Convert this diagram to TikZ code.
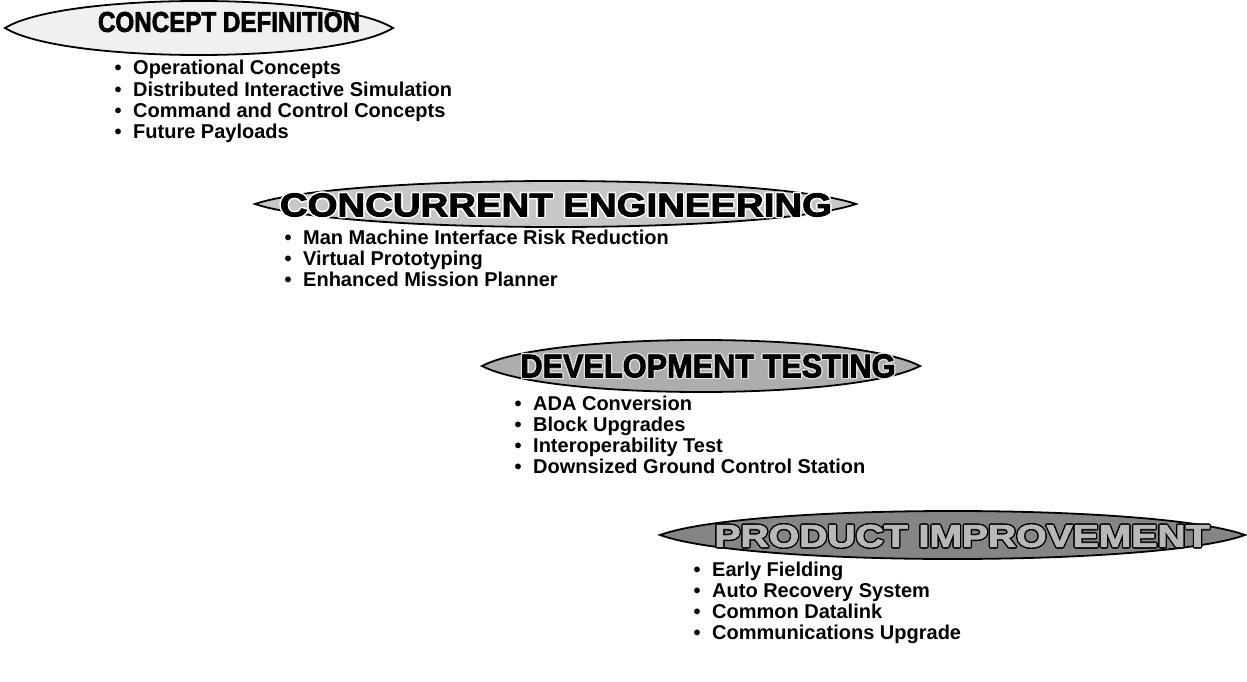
\documentclass[tikz,border=0pt]{standalone}
\usepackage{fontspec}
\setmainfont{Liberation Sans}
\newfontfamily\heavyfont[FakeBold=2.5]{Liberation Sans Bold}
\usepackage{graphicx}
\begin{document}
\begin{tikzpicture}[x=1pt,y=-1pt,
  lens/.style={draw=black, line width=1.8pt},
  bul/.style={anchor=base west, inner sep=0pt, font=\fontsize{20}{21}\selectfont\bfseries},
  dot/.style={anchor=base, inner sep=0pt, font=\fontsize{20}{21}\selectfont\bfseries},
  ttl/.style={inner sep=0pt, font=\heavyfont}]
\useasboundingbox (0,0) rectangle (1247,682);
\newcommand\lensat[5]{%
 \pgfmathsetmacro\lensw{#2-#1}%
 \filldraw[lens, fill=#5] (#1,#3) .. controls ({#1+0.15*\lensw},{#3-#4/0.75}) and ({#2-0.15*\lensw},{#3-#4/0.75}) .. (#2,#3) .. controls ({#2-0.15*\lensw},{#3+#4/0.75}) and ({#1+0.15*\lensw},{#3+#4/0.75}) .. cycle;}
% lenses
\lensat{5}{393}{28}{27}{black!6}
\lensat{255}{856}{204}{23}{black!22}
\lensat{482}{920}{366}{26}{black!32}
\lensat{660}{1245}{535}{24}{black!48}
% titles
\node[ttl] (t1) at (229,22) {\resizebox{262pt}{20pt}{CONCEPT DEFINITION}};
\foreach \dx/\dy in {-1.6/0,1.6/0,0/-1.6,0/1.6,-1.1/-1.1,1.1/1.1,-1.1/1.1,1.1/-1.1}
  \node[ttl, text=white] at ({556+\dx},{205+\dy}) {\resizebox{552pt}{23pt}{CONCURRENT ENGINEERING}};
\node[ttl] (t2) at (556,205) {\resizebox{552pt}{23pt}{CONCURRENT ENGINEERING}};
\foreach \dx/\dy in {-1.4/0,1.4/0,0/-1.4,0/1.4,-1/-1,1/1,-1/1,1/-1}
  \node[ttl, text=black!12] at ({708+\dx},{366+\dy}) {\resizebox{375pt}{23pt}{DEVELOPMENT TESTING}};
\node[ttl] (t3) at (708,366) {\resizebox{375pt}{23pt}{DEVELOPMENT TESTING}};
\foreach \dx/\dy in {-1.4/0,1.4/0,0/-1.4,0/1.4,-1/-1,1/1,-1/1,1/-1}
  \node[ttl, text=black] at ({962+\dx},{536+\dy}) {\resizebox{495pt}{22pt}{PRODUCT IMPROVEMENT}};
\node[ttl, text=black!28] (t4) at (962,536) {\resizebox{495pt}{22pt}{PRODUCT IMPROVEMENT}};
% lists
\foreach \t [count=\i] in {Operational Concepts, Distributed Interactive Simulation, Command and Control Concepts, Future Payloads} {
  \node[dot] (ba\i) at (118,{75+21.3*(\i-1)}) {\textbullet};
  \node[bul] (la\i) at (133,{75+21.3*(\i-1)}) {\t};
}
\foreach \t [count=\i] in {Man Machine Interface Risk Reduction, Virtual Prototyping, Enhanced Mission Planner} {
  \node[dot] (bb\i) at (288,{244+21*(\i-1)}) {\textbullet};
  \node[bul] (lb\i) at (303,{244+21*(\i-1)}) {\t};
}
\foreach \t [count=\i] in {ADA Conversion, Block Upgrades, Interoperability Test, Downsized Ground Control Station} {
  \node[dot] (bc\i) at (518,{410+21*(\i-1)}) {\textbullet};
  \node[bul] (lc\i) at (533,{410+21*(\i-1)}) {\t};
}
\foreach \t [count=\i] in {Early Fielding, Auto Recovery System, Common Datalink, Communications Upgrade} {
  \node[dot] (bd\i) at (697,{576+21.2*(\i-1)}) {\textbullet};
  \node[bul] (ld\i) at (712,{576+21.2*(\i-1)}) {\t};
}
\end{tikzpicture}
\end{document}
